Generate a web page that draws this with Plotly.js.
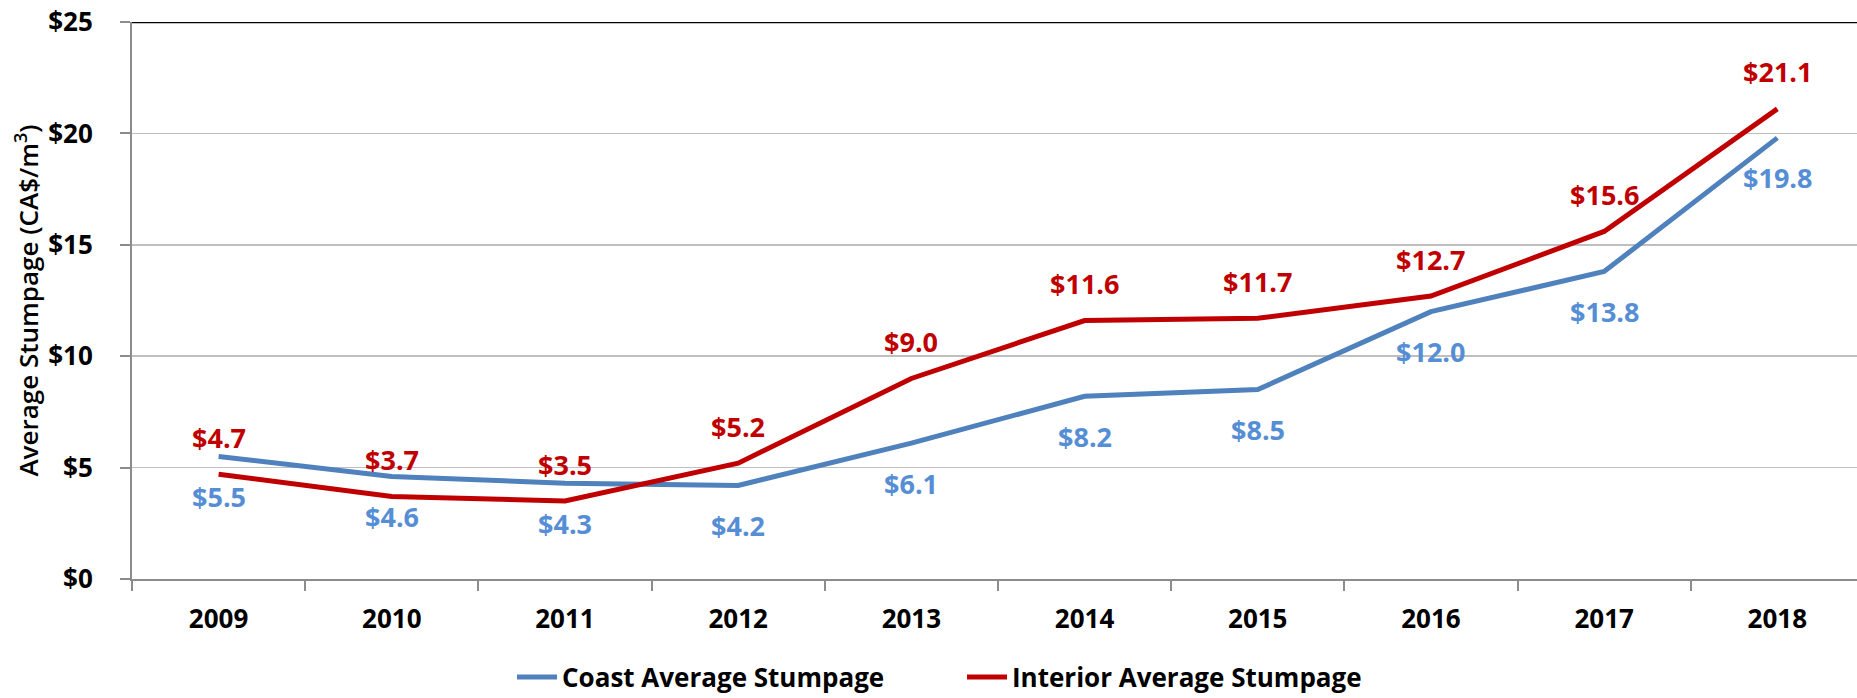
<!DOCTYPE html>
<html>
<head>
<meta charset="utf-8">
<script src="https://cdn.plot.ly/plotly-3.0.1.min.js"></script>
<style>html,body{margin:0;padding:0;background:#fff;}#chart{width:1857px;height:698px;}</style>
</head>
<body>
<div id="chart"></div>
<script>
const years = ['2009','2010','2011','2012','2013','2014','2015','2016','2017','2018'];
const coast = [5.5, 4.6, 4.3, 4.2, 6.1, 8.2, 8.5, 12.0, 13.8, 19.8];
const interior = [4.7, 3.7, 3.5, 5.2, 9.0, 11.6, 11.7, 12.7, 15.6, 21.1];
const coastName = 'Coast Average Stumpage';
const interiorName = 'Interior Average Stumpage';
const yTicks = [0, 5, 10, 15, 20, 25];
const yTickText = ['$0', '$5', '$10', '$15', '$20', '$25'];

const FONT = '"Open Sans", "Noto Sans", sans-serif';
const blue = '#4F81BD', red = '#C00000', blueLbl = '#558ED5';

const traces = [
  {x: years, y: coast, name: coastName, type: 'scatter', mode: 'lines',
   line: {color: blue, width: 5}, hoverinfo: 'skip'},
  {x: years, y: interior, name: interiorName, type: 'scatter', mode: 'lines',
   line: {color: red, width: 5}, hoverinfo: 'skip'}
];

const annotations = [];
years.forEach((yr, i) => {
  annotations.push({x: i, y: interior[i], xref: 'x', yref: 'y', text: '$' + interior[i].toFixed(1),
    showarrow: false, yshift: 37, font: {family: FONT, size: 27, color: red, weight: 700}});
  annotations.push({x: i, y: coast[i], xref: 'x', yref: 'y', text: '$' + coast[i].toFixed(1),
    showarrow: false, yshift: -40, font: {family: FONT, size: 27, color: blueLbl, weight: 700}});
});

const layout = {
  width: 1857, height: 698,
  margin: {l: 132, r: 0, t: 22, b: 119, autoexpand: false},
  paper_bgcolor: '#fff', plot_bgcolor: '#fff',
  font: {family: FONT},
  showlegend: true,
  legend: {orientation: 'h', xref: 'paper', x: 0.2203, xanchor: 'left',
    yref: 'container', y: 0.03, yanchor: 'middle',
    font: {family: FONT, size: 26, color: '#000', weight: 700},
    entrywidth: 395, itemwidth: 40, traceorder: 'normal', bgcolor: 'rgba(0,0,0,0)'},
  xaxis: {type: 'category', range: [-0.5, 9.46], showgrid: false,
    showline: true, linecolor: '#8C8C8C', linewidth: 2,
    ticks: 'outside', ticklen: 10, tickcolor: '#8C8C8C', tickwidth: 2, tickson: 'boundaries',
    tickfont: {family: FONT, size: 26, color: '#000', weight: 700}, ticklabelstandoff: 16,
    fixedrange: true},
  yaxis: {range: [0, 25], tickvals: yTicks, ticktext: yTickText,
    showgrid: true, gridcolor: '#BFBFBF', gridwidth: 1.5, zeroline: false,
    showline: true, linecolor: '#8C8C8C', linewidth: 2,
    ticks: 'outside', ticklen: 10, tickcolor: '#8C8C8C', tickwidth: 2,
    tickfont: {family: FONT, size: 26, color: '#000', weight: 700}, ticklabelstandoff: 22,
    title: {text: 'Average Stumpage (CA$/m<sup>3</sup>)', standoff: 2,
      font: {family: FONT, size: 26, color: '#000', weight: 600}},
    automargin: false, fixedrange: true},
  shapes: [{type: 'line', xref: 'paper', yref: 'y', x0: 0, x1: 1, y0: 25, y1: 25,
    line: {color: '#000', width: 2.5}}],
  annotations: annotations
};

Plotly.newPlot('chart', traces, layout, {displayModeBar: false, staticPlot: true});
</script>
</body>
</html>
